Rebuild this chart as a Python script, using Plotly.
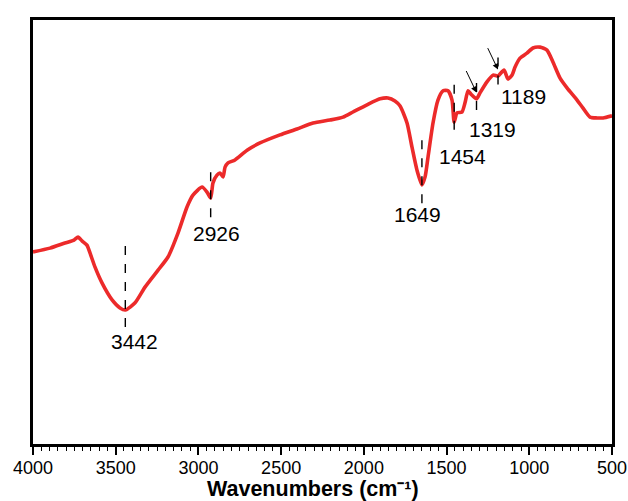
import numpy as np
import plotly.graph_objects as go

# FTIR spectrum (wavenumber in cm^-1, transmittance in arbitrary %)
wavenumber = [4000, 3897, 3807, 3752, 3728, 3704, 3674, 3655, 3625, 3583,
              3522, 3474, 3442, 3383, 3323, 3244, 3184, 3123, 3069, 3033,
              2978, 2948, 2926, 2912, 2888, 2870, 2851, 2839, 2821, 2779,
              2706, 2628, 2507, 2404, 2307, 2205, 2126, 2066, 1981, 1902,
              1854, 1812, 1781, 1739, 1709, 1679, 1649, 1630, 1612, 1582,
              1552, 1521, 1491, 1467, 1454, 1437, 1407, 1389, 1370, 1352,
              1319, 1298, 1256, 1219, 1189, 1153, 1129, 1104, 1086, 1056,
              1014, 978, 935, 893, 857, 814, 772, 711, 675, 633,
              591, 554, 500]
transmittance = [45.3, 46.2, 47.4, 48.1, 48.8, 47.9, 46.9, 45.0, 41.7, 38.0,
                 34.0, 32.1, 31.6, 33.3, 37.0, 41.0, 44.1, 49.8, 55.9, 58.7,
                 60.6, 59.4, 58.0, 61.6, 63.4, 63.9, 63.0, 65.3, 66.3, 67.0,
                 69.3, 71.0, 72.9, 74.3, 75.7, 76.4, 77.1, 78.3, 80.0, 81.4,
                 81.6, 80.9, 79.7, 75.7, 70.0, 64.6, 61.1, 63.0, 67.7, 75.7,
                 81.1, 83.3, 83.3, 81.1, 75.9, 78.1, 78.3, 80.4, 83.3, 82.5,
                 81.4, 82.8, 85.4, 87.0, 86.8, 88.2, 86.1, 87.0, 88.9, 91.0,
                 92.2, 93.4, 93.6, 92.9, 90.1, 86.3, 84.0, 81.1, 79.2, 77.1,
                 76.9, 76.9, 77.4]

# Labelled absorption bands
peaks = [3442, 2926, 1649, 1454, 1319, 1189]
peak_labels = ["3442", "2926", "1649", "1454", "1319", "1189"]
# bands marked with an extra arrow
arrow_peaks = [1319, 1189]

# dashed marker extent above / below the curve (data units) and
# label offsets from the marker's lower end (pixels)
dash_above = [15.8, 7.3, 11.0, 10.0, 4.4, 5.7]
dash_below = [4.0, 4.5, 4.3, 1.8, 2.6, 2.0]
label_dx = [9, 6, -4, 8, 16, 25]
label_dy = [-15, -16, -11, -27, -20, -12]

wn = np.array(wavenumber[::-1], dtype=float)
tr = np.array(transmittance[::-1], dtype=float)


def curve_at(w):
    return float(np.interp(w, wn, tr))


fig = go.Figure()
fig.add_trace(go.Scatter(
    x=wavenumber, y=transmittance, mode="lines",
    line=dict(color="#ec2a2a", width=3.6, shape="spline", smoothing=0.6),
    hoverinfo="skip", showlegend=False,
))

for p, lab, up, dn, dx, dy in zip(peaks, peak_labels, dash_above, dash_below,
                                  label_dx, label_dy):
    yc = curve_at(p)
    fig.add_shape(type="line", x0=p, x1=p, y0=yc - dn, y1=yc + up,
                  line=dict(color="black", width=1.4, dash="dash"))
    fig.add_annotation(x=p, y=yc - dn, text=lab, showarrow=False,
                       xshift=dx, yshift=dy, yanchor="middle",
                       font=dict(size=21, color="black"))

for p in arrow_peaks:
    fig.add_annotation(x=p, y=curve_at(p) + 1.5, text="", showarrow=True,
                       arrowhead=2, arrowsize=1.2, arrowwidth=1.0,
                       arrowcolor="black", ax=-11, ay=-23)

# x-axis title, placed below the tick labels
fig.add_annotation(x=0.5, y=0, xref="paper", yref="paper",
                   text="<b>Wavenumbers (cm\u207b\u00b9)</b>",
                   showarrow=False, yanchor="middle", yshift=-45, xshift=-10,
                   borderpad=0,
                   font=dict(size=21.5, color="black"))

fig.update_layout(
    width=628, height=501,
    margin=dict(l=33, r=16, t=20, b=57),
    paper_bgcolor="white", plot_bgcolor="white",
    font=dict(family="Arial, Liberation Sans, sans-serif", color="black"),
    xaxis=dict(
        range=[4000, 500], showgrid=False, zeroline=False, automargin=False,
        showline=True, linecolor="black", linewidth=2.5, mirror=True,
        ticks="outside", ticklen=8, tickwidth=2, tickcolor="black",
        tickvals=[4000, 3500, 3000, 2500, 2000, 1500, 1000, 500],
        tickfont=dict(size=18), ticklabelstandoff=-2,
        minor=dict(ticks="outside", ticklen=4, tickwidth=1.2,
                   tickcolor="black", dtick=50, showgrid=False),
    ),
    yaxis=dict(
        range=[0, 100], showgrid=False, zeroline=False, automargin=False,
        showline=True, linecolor="black", linewidth=2.5, mirror=True,
        showticklabels=False, ticks="",
    ),
)

fig.write_html("out.html")
